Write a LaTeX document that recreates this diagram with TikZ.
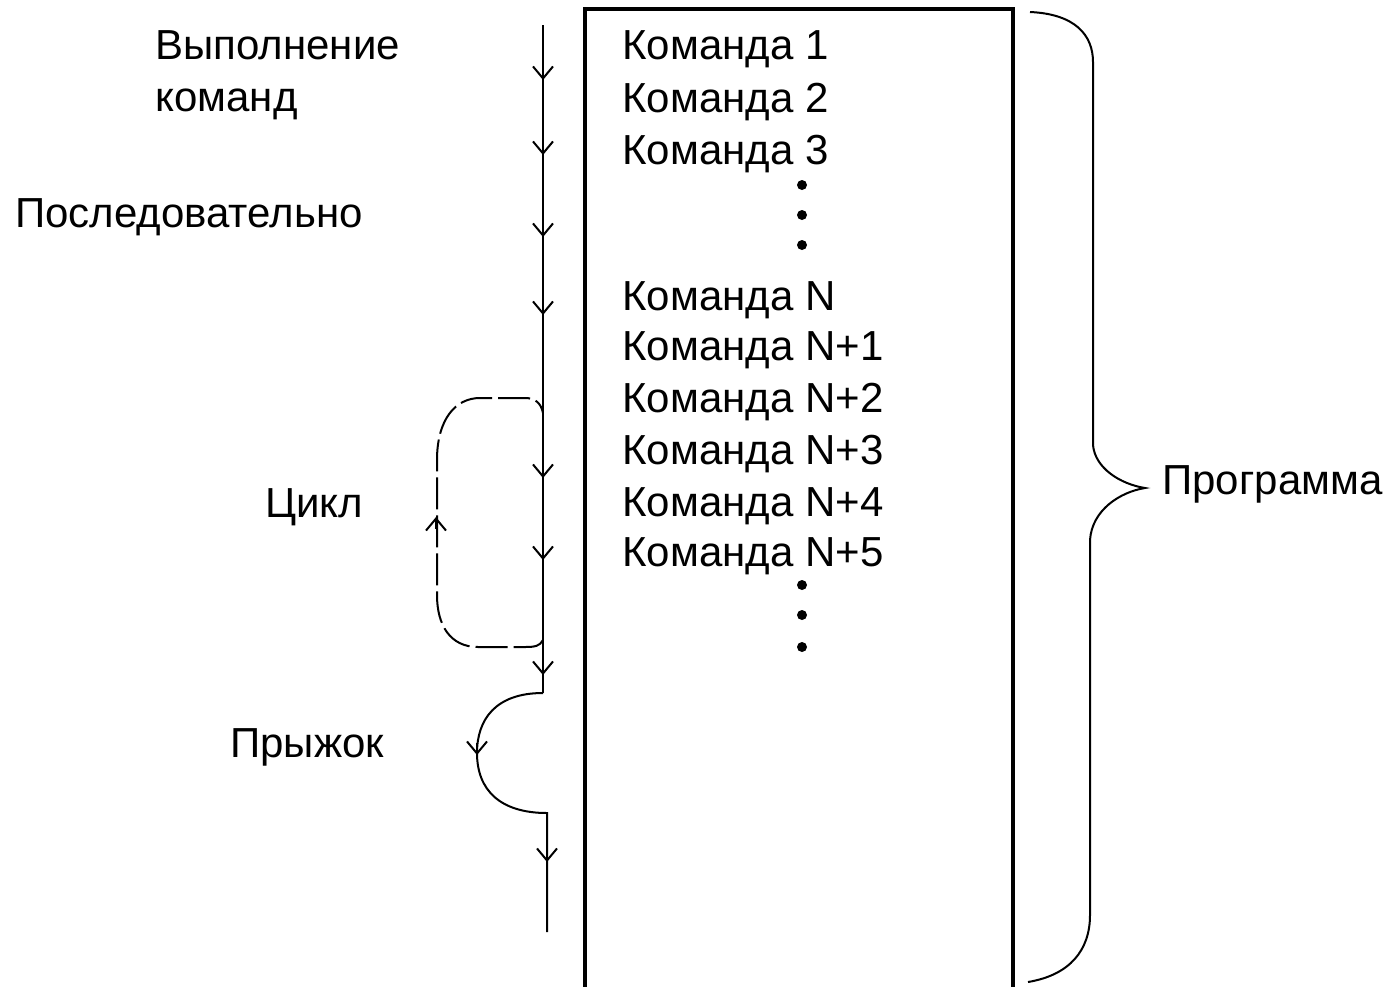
\documentclass[tikz,border=0pt]{standalone}
\usepackage{fontspec}
\setmainfont{Liberation Sans}
\usetikzlibrary{arrows.meta}
\begin{document}
\begin{tikzpicture}[x=0.5pt,y=-0.5pt,
  txt/.style={anchor=base west,inner sep=0pt,font=\fontsize{21}{25}\selectfont},
  flow/.style={line width=1pt},
  tipd/.style={flow,-{Straight Barb[length=6pt,width=10pt,line width=1pt]}},
  loopline/.style={flow,dash pattern=on 16pt off 3pt},
  frame/.style={line width=2pt},
  brace/.style={line width=1pt},
  dot/.style={circle,fill=black,inner sep=0pt,minimum size=5pt}]
\useasboundingbox (0,0) rectangle (1391,986);
\clip (0,0) rectangle (1391,986);

% program memory block
\draw[frame] (585,1000) -- (585,9) -- (1013,9) -- (1013,1000);

% command list
\node[txt] (c1) at (622,59) {Команда 1};
\node[txt] (c2) at (622,112) {Команда 2};
\node[txt] (c3) at (622,164) {Команда 3};
\node[dot] (d1) at (802,185) {};
\node[dot] (d2) at (802,215) {};
\node[dot] (d3) at (802,245) {};
\node[txt] (cn) at (622,310) {Команда N};
\node[txt] (cn1) at (622,360) {Команда N+1};
\node[txt] (cn2) at (622,412) {Команда N+2};
\node[txt] (cn3) at (622,464) {Команда N+3};
\node[txt] (cn4) at (622,516) {Команда N+4};
\node[txt] (cn5) at (622,566) {Команда N+5};
\node[dot] (d4) at (802,585) {};
\node[dot] (d5) at (802,615) {};
\node[dot] (d6) at (802,647) {};

% left labels
\node[txt] (lexec) at (155,59) {Выполнение};
\node[txt] (lcmd) at (155,111) {команд};
\node[txt] (lseq) at (15,227) {Последовательно};
\node[txt] (lcyc) at (265,517) {Цикл};
\node[txt] (ljmp) at (230,757) {Прыжок};
\node[txt] (lprog) at (1162,494) {Программа};

% execution flow
\coordinate (start) at (543,25);
\coordinate (ltop) at (543,413);
\coordinate (lbot) at (543,640);
\coordinate (jfrom) at (543,693);
\coordinate (jto) at (547,813);
\coordinate (end) at (547,932);
\draw[flow] (start) -- (jfrom);
\draw[flow] (jfrom) .. controls (495,693) and (477,720) .. (477,753)
  .. controls (477,790) and (500,813) .. (jto) -- (end);

% cycle (back edge)
\draw[loopline] (lbot) .. controls (540,646) and (535,647) .. (525,647) -- (478,647)
  .. controls (450,647) and (437,625) .. (437,595) -- (437,460)
  .. controls (437,420) and (455,398) .. (480,398) -- (525,398)
  .. controls (535,398) and (541,403) .. (ltop);

% arrowheads along the flow
\foreach \y in {80,155,237,315,478,560,675}
  \draw[tipd] (543,\y-12) -- (543,\y);
\draw[tipd] (477,743) -- (477,755);
\draw[tipd] (547,850) -- (547,862);
\draw[tipd] (436,529) -- (436,517);

% brace around the program
\draw[brace] (1030,12) .. controls (1075,14) and (1093,35) .. (1093,62) -- (1093,445)
  .. controls (1095,468) and (1120,484) .. (1145,488)
  .. controls (1120,492) and (1092,510) .. (1090,540) -- (1090,915)
  .. controls (1090,950) and (1070,975) .. (1028,982);
\end{tikzpicture}
\end{document}
